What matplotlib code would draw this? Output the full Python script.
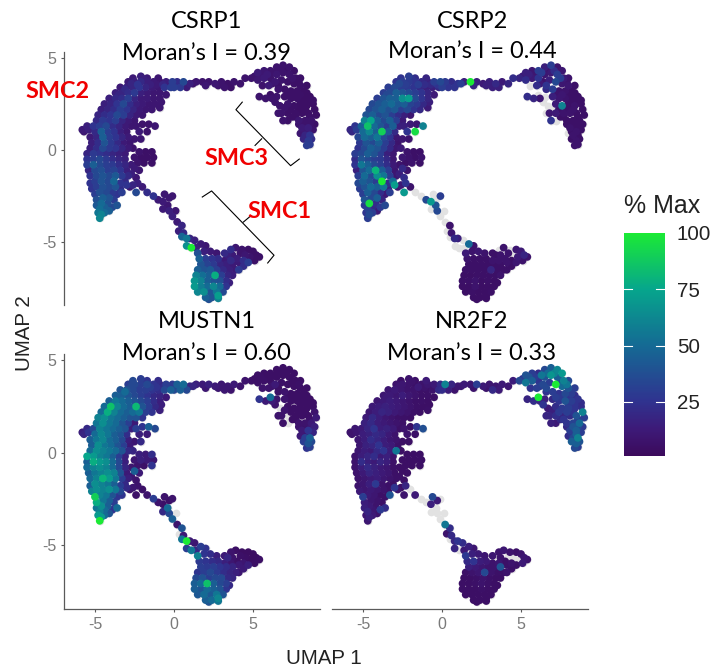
import matplotlib
matplotlib.use("Agg")
import matplotlib.pyplot as plt
import numpy as np
from matplotlib.colors import LinearSegmentedColormap, Normalize
from matplotlib.cm import ScalarMappable

plt.rcParams["axes.unicode_minus"] = False

UMAP1 = [
-4.7,-4.6,-4.8,-4.4,-4.7,-4.4,-4.9,-4.1,-4.6,-4.2,
-4.9,-4.5,-4.1,-3.8,-5.0,-4.7,-4.3,-3.9,-3.6,-5.2,
-4.9,-4.5,-4.1,-3.7,-3.4,-5.3,-5.0,-4.6,-4.2,-3.8,
-3.4,-3.1,-5.3,-4.9,-4.5,-4.1,-3.7,-3.3,-2.9,-5.4,
-5.0,-4.6,-4.2,-3.8,-3.4,-3.0,-5.5,-5.1,-4.7,-4.3,
-3.9,-3.5,-3.1,-2.7,-5.5,-5.1,-4.7,-4.3,-3.9,-3.5,
-3.1,-5.5,-5.1,-4.7,-4.3,-3.9,-3.5,-3.1,-5.3,-4.9,
-4.5,-4.1,-3.7,-3.3,-2.9,-5.2,-4.8,-4.4,-4.0,-3.6,
-3.2,-2.8,-5.3,-4.9,-4.5,-4.1,-3.7,-3.3,-2.9,-5.7,
-5.8,-5.4,-5.0,-4.6,-4.2,-3.8,-3.4,-3.0,-5.5,-5.1,
-4.7,-4.3,-3.9,-3.5,-3.1,-2.7,-4.9,-4.5,-4.1,-3.7,
-3.3,-2.9,-2.5,-4.8,-4.4,-4.0,-3.6,-3.2,-2.8,-2.4,
-2.0,-4.6,-4.2,-3.8,-3.4,-3.0,-2.6,-2.2,-1.8,-1.4,
-0.9,-4.4,-4.0,-3.6,-3.2,-2.8,-2.4,-2.0,-1.6,-1.2,
-0.8,-4.1,-3.7,-3.3,-2.9,-2.5,-2.1,-1.7,-1.3,-0.9,
-0.5,-3.7,-3.3,-2.9,-2.5,-2.1,-1.7,-1.3,-0.9,-3.4,
-3.0,-2.6,-2.2,-1.8,-1.4,-1.0,-0.6,-0.2,-2.9,-2.5,
-2.1,-1.7,-1.3,-0.9,-0.5,-0.1,-2.6,-2.1,-1.7,-1.0,
-2.4,-2.0,-1.6,-1.2,-2.2,-1.7,-2.5,-2.1,-2.6,-2.2,
-1.8,-1.4,-2.5,-2.1,-1.7,-1.3,-2.3,-1.9,-1.4,-2.5,
-2.2,-2.7,-2.4,-3.0,-3.3,-2.8,-3.6,-3.9,-2.6,-2.3,
-2.0,-1.7,-2.4,-1.3,-1.0,-0.6,-0.3,-0.7,-0.4,-0.1,
-0.7,-0.3,-0.1,0.1,0.2,0.5,0.3,0.6,0.8,0.5,
0.8,1.0,1.3,1.1,1.4,1.7,2.0,1.5,1.9,2.3,
2.7,1.6,2.0,2.4,2.8,3.2,1.7,2.1,2.5,2.9,
3.3,3.7,4.1,1.5,1.9,2.3,2.7,3.1,3.5,3.9,
1.4,1.8,2.2,2.6,3.0,3.4,3.7,1.3,1.7,2.1,
2.5,2.9,3.3,3.5,1.3,1.7,2.1,2.5,2.9,3.3,
1.5,1.9,2.3,2.7,3.1,2.0,2.4,2.8,2.2,2.8,
3.6,3.9,4.3,4.7,5.0,5.2,5.4,5.1,4.8,4.5,
3.4,3.7,3.6,4.0,4.4,3.2,4.2,4.7,4.4,4.1,
0.2,0.6,1.0,0.0,0.4,1.4,1.8,2.2,2.6,3.0,
3.4,3.8,4.2,4.5,0.8,3.2,1.2,2.0,2.8,3.6,
4.9,5.3,5.3,5.7,5.7,6.1,6.1,6.5,6.5,6.9,
6.9,7.3,7.3,7.6,7.7,5.6,6.0,6.4,6.8,7.2,
7.6,8.0,8.0,6.6,7.0,7.4,7.8,8.2,8.4,7.0,
7.4,7.8,8.2,8.6,7.2,7.6,8.0,8.4,8.8,7.7,
8.1,8.5,8.9,9.0,7.9,8.3,8.7,8.9,8.1,8.5,
8.8,8.3,8.6,8.5,8.4,8.7,8.2,7.9,8.6,8.0,
5.4,5.8,6.1,6.4,6.7,6.8,7.2,6.9,7.2,7.0,
5.1,5.5,5.9,6.3,6.7,7.1,7.5,7.9,6.2,6.6,
7.2,7.6,8.0,8.4,8.0,8.4,8.8,7.9,8.3,7.4,
8.6,8.6,8.3,8.5,8.2,7.7,6.5,7.5,6.6,6.2,
-3.9,-3.5,-3.1,-2.7,-2.3,-1.9,-1.5,-1.1,-0.7,-0.3,
]
UMAP2 = [
-3.7,-3.5,-3.4,-3.4,-3.2,-3.1,-3.0,-3.3,-2.9,-2.9,
-2.7,-2.6,-2.6,-2.7,-2.4,-2.3,-2.3,-2.3,-2.4,-2.1,
-2.0,-2.0,-2.0,-2.0,-2.1,-1.8,-1.7,-1.7,-1.7,-1.7,
-1.8,-1.7,-1.4,-1.4,-1.4,-1.4,-1.4,-1.4,-1.4,-1.1,
-1.1,-1.1,-1.1,-1.1,-1.1,-1.1,-0.8,-0.8,-0.8,-0.8,
-0.8,-0.8,-0.8,-0.8,-0.5,-0.5,-0.5,-0.5,-0.5,-0.5,
-0.5,-0.2,-0.2,-0.2,-0.2,-0.2,-0.2,-0.2,0.1,0.1,
0.1,0.1,0.1,0.1,0.1,0.4,0.4,0.4,0.4,0.4,
0.4,0.4,0.7,0.7,0.7,0.7,0.7,0.7,0.7,1.0,
1.1,1.1,1.0,1.0,1.0,1.0,1.0,1.0,1.3,1.3,
1.3,1.3,1.3,1.3,1.3,1.3,1.6,1.6,1.6,1.6,
1.6,1.6,1.6,1.9,1.9,1.9,1.9,1.9,1.9,1.9,
1.9,2.2,2.2,2.2,2.2,2.2,2.2,2.2,2.2,2.2,
2.3,2.5,2.5,2.5,2.5,2.5,2.5,2.5,2.5,2.5,
2.6,2.8,2.8,2.8,2.8,2.8,2.8,2.8,2.8,2.8,
3.0,3.1,3.1,3.1,3.1,3.1,3.1,3.1,3.1,3.4,
3.4,3.4,3.4,3.4,3.4,3.4,3.4,3.4,3.7,3.7,
3.7,3.7,3.7,3.7,3.7,3.7,3.9,4.0,3.9,3.9,
1.3,1.4,1.4,1.3,1.0,1.0,0.6,0.6,0.1,-0.1,
-0.1,-0.1,-0.4,-0.4,-0.4,-0.4,-0.7,-0.7,-0.7,-1.0,
-1.1,-1.3,-1.5,-1.9,-2.3,-2.0,-3.0,-3.1,-1.9,-1.8,
-2.0,-2.3,-2.3,-2.5,-2.7,-2.4,-2.6,-2.8,-3.0,-2.5,
-3.2,-3.3,-3.6,-3.3,-3.9,-4.1,-4.4,-4.5,-4.8,-4.7,
-5.2,-4.8,-4.9,-5.3,-5.3,-5.1,-5.2,-5.6,-5.5,-5.5,
-5.6,-5.9,-5.9,-5.9,-5.9,-6.0,-6.2,-6.2,-6.2,-6.2,
-6.2,-6.2,-6.1,-6.5,-6.5,-6.5,-6.5,-6.5,-6.5,-6.5,
-6.8,-6.8,-6.8,-6.8,-6.8,-6.8,-6.8,-7.1,-7.1,-7.1,
-7.1,-7.1,-7.1,-7.2,-7.4,-7.4,-7.4,-7.4,-7.4,-7.4,
-7.7,-7.7,-7.7,-7.7,-7.7,-8.0,-8.0,-7.9,-8.1,-8.05,
-5.4,-5.3,-5.4,-5.4,-5.5,-5.7,-5.8,-6.0,-5.8,-5.7,
-5.7,-5.7,-6.0,-5.9,-6.0,-5.6,-5.6,-6.1,-6.3,-6.5,
3.7,3.7,3.6,3.4,3.4,3.7,3.7,3.7,3.6,3.7,
3.6,3.7,3.6,3.9,3.4,3.4,3.6,3.5,3.5,3.4,
3.9,4.2,3.8,4.3,3.9,4.3,3.9,4.5,4.1,4.6,
4.2,4.5,4.1,4.3,3.9,3.5,3.5,3.7,3.8,3.7,
3.6,3.9,3.5,3.3,3.3,3.2,3.2,3.2,3.5,2.9,
2.8,2.8,2.8,2.9,2.5,2.4,2.4,2.4,2.5,2.0,
2.0,2.0,2.2,1.9,1.6,1.6,1.6,1.4,1.2,1.2,
1.1,0.8,0.8,0.5,0.25,0.6,1.0,1.4,0.3,0.9,
2.9,2.8,3.0,2.6,2.4,2.0,2.0,1.6,1.6,2.3,
4.0,4.1,4.1,4.2,4.3,4.3,3.9,3.7,3.6,3.5,
3.0,3.0,3.0,3.1,2.6,2.6,2.7,2.2,2.2,2.2,
1.8,1.4,1.4,1.0,0.6,1.8,2.9,1.8,2.0,2.8,
2.6,3.0,3.3,3.6,3.55,3.85,3.55,3.55,3.55,3.55,
]
CSRP1 = [
62,60,55,50,52,45,42,45,50,38,
38,45,40,30,30,38,35,28,25,25,
30,38,35,40,22,25,30,40,35,48,
25,20,25,35,40,35,42,28,20,18,
35,38,30,32,25,15,30,45,35,30,
28,22,18,12,25,30,35,28,22,18,
15,18,28,25,22,18,15,12,15,22,
35,28,25,18,12,15,22,40,28,20,
12,10,12,18,45,30,25,18,12,10,
12,15,20,45,30,25,15,10,15,25,
30,35,22,18,12,10,20,28,25,30,
18,12,10,18,22,25,35,30,18,12,
10,15,18,22,30,25,18,12,10,10,
10,15,18,25,35,22,15,12,10,10,
10,15,20,22,30,18,12,12,10,10,
10,15,18,22,28,15,12,10,10,12,
15,18,25,18,12,10,25,30,12,15,
20,15,12,10,15,30,12,15,12,10,
10,8,8,10,12,8,10,10,8,8,
6,6,8,6,6,6,8,6,6,12,
10,15,10,25,30,12,40,35,18,15,
12,22,35,25,12,10,10,12,10,10,
12,15,15,10,12,18,15,20,55,48,
65,18,15,100,15,12,10,38,15,12,
10,45,30,25,22,12,40,32,28,18,
15,12,12,45,40,42,30,20,15,12,
60,52,45,78,30,18,15,68,60,45,
40,38,22,15,70,58,50,62,50,25,
62,65,40,55,35,45,40,72,38,60,
22,10,8,6,6,6,6,6,8,10,
15,12,20,14,22,20,8,30,22,28,
22,35,15,30,28,10,8,8,10,8,
6,8,8,8,12,8,8,10,8,6,
8,12,10,10,12,8,8,8,10,8,
8,8,8,6,6,8,12,10,8,6,
6,6,6,8,6,6,6,5,5,6,
6,6,5,5,8,6,5,5,5,6,
5,5,5,5,10,8,8,6,12,14,
8,18,25,28,30,22,10,8,28,10,
8,8,6,8,8,8,6,8,6,8,
8,10,12,8,8,6,8,6,8,6,
6,6,6,5,5,5,6,5,5,6,
6,8,8,10,18,6,8,6,8,8,
15,18,20,18,25,15,15,12,18,12,
]
CSRP2 = [
30,35,25,30,32,20,28,12,95,22,
40,35,45,18,30,45,35,22,12,30,
40,50,45,55,15,35,45,40,30,100,
22,50,30,50,35,65,55,30,10,15,
40,50,80,45,30,10,25,55,45,35,
30,22,12,8,22,40,35,30,28,20,
10,30,35,45,40,30,15,10,25,35,
45,40,30,20,10,28,40,35,45,30,
20,8,35,50,45,55,35,25,10,20,
18,30,50,62,45,90,40,20,25,45,
85,50,40,30,45,15,60,75,45,35,
45,30,12,40,45,35,40,30,22,15,
10,35,40,45,38,42,30,35,25,20,
12,35,40,45,50,42,45,32,28,20,
15,30,40,45,45,65,72,35,25,18,
12,30,35,45,40,35,30,25,18,30,
35,30,28,25,20,15,15,20,25,30,
28,25,20,15,30,35,25,30,22,18,
15,12,10,60,25,95,10,8,12,8,
6,6,10,8,6,8,6,8,6,20,
8,15,22,72,30,10,35,28,12,25,
8,0,70,0,35,0,0,70,40,30,
0,35,0,0,0,8,0,10,20,0,
0,15,0,0,0,50,8,12,8,10,
8,8,6,6,6,8,6,6,6,6,
6,6,8,6,6,6,6,18,6,6,
5,5,6,6,6,6,8,6,6,8,
5,6,5,5,5,5,8,5,5,5,
5,6,5,5,6,5,5,5,5,5,
0,8,0,10,12,18,8,8,12,0,
6,8,8,8,6,6,8,10,6,6,
28,22,25,30,25,15,100,15,12,15,
20,12,18,22,25,15,30,18,15,15,
18,15,22,10,12,30,25,15,10,30,
12,8,30,10,12,0,22,8,15,35,
10,8,10,20,30,8,8,6,6,15,
10,8,6,6,12,60,6,8,6,8,
8,6,6,6,6,6,6,6,8,6,
6,8,6,8,8,6,6,6,8,0,
22,18,0,0,0,10,12,25,0,0,
12,15,10,30,8,22,30,8,12,25,
8,10,6,6,6,6,6,6,8,6,
6,6,6,8,6,6,0,6,0,10,
30,35,28,35,30,25,30,22,20,25,
]
MUSTN1 = [
100,70,70,50,60,50,55,40,65,45,
78,55,45,30,90,60,55,40,25,60,
65,60,65,55,35,45,65,60,55,45,
30,20,50,60,80,70,55,30,15,45,
55,60,65,60,40,12,50,60,65,60,
50,35,18,10,45,78,70,65,50,35,
15,75,70,60,55,45,30,15,50,65,
60,55,50,40,20,45,65,55,50,40,
30,12,45,55,62,50,45,35,15,18,
15,25,50,62,55,45,40,22,20,35,
60,55,50,45,40,15,55,65,55,50,
40,30,12,60,65,55,50,45,40,40,
25,50,78,60,50,45,50,55,30,25,
15,50,85,60,50,45,82,40,30,20,
15,45,55,50,45,40,35,30,22,15,
12,45,45,40,35,30,25,20,18,40,
40,35,30,30,25,22,35,45,30,35,
30,35,25,18,30,28,35,30,25,22,
30,25,45,35,15,12,10,20,18,15,
12,22,10,15,12,10,8,6,25,45,
12,10,8,20,25,8,50,25,10,8,
6,8,6,30,8,8,6,6,50,8,
20,35,45,0,8,40,0,12,100,55,
30,12,10,55,20,30,25,60,25,22,
15,28,25,22,20,15,30,28,30,25,
22,18,12,25,30,35,28,22,18,15,
35,40,30,35,35,20,18,45,50,85,
45,35,30,20,45,40,50,45,40,25,
42,50,42,55,40,45,50,62,40,55,
8,5,4,4,4,4,5,5,4,5,
18,8,10,6,10,12,6,15,12,10,
45,50,18,35,45,15,12,15,12,10,
10,12,8,8,35,10,18,10,10,8,
6,6,6,5,6,5,5,5,5,5,
5,5,5,5,5,8,8,12,6,5,
5,5,5,6,8,5,5,5,5,8,
5,5,5,5,5,5,5,5,5,5,
5,5,8,12,8,8,12,15,12,25,
18,30,45,40,25,35,10,8,30,12,
25,12,50,8,0,8,0,6,0,8,
5,6,5,5,5,5,5,6,8,5,
5,5,5,5,5,5,5,5,5,5,
6,8,6,10,30,5,8,5,8,12,
50,45,50,35,30,25,30,25,22,18,
]
NR2F2 = [
10,15,10,12,18,10,15,8,12,8,
14,10,8,6,30,12,10,6,6,12,
10,12,10,8,6,8,10,15,28,8,
6,5,8,10,12,14,10,8,6,8,
12,18,15,12,10,6,8,14,20,16,
12,10,6,5,8,22,15,12,18,14,
6,8,14,18,22,12,15,8,10,14,
12,20,25,14,55,10,16,18,25,14,
12,6,10,14,22,18,14,10,8,8,
8,10,14,16,20,18,12,8,10,12,
18,25,14,16,12,6,16,20,14,12,
10,8,6,12,20,14,10,8,6,6,
5,10,14,18,16,12,10,8,6,5,
6,12,14,16,14,12,10,8,6,5,
5,10,12,14,12,10,8,6,6,5,
5,10,12,10,14,10,8,6,6,10,
12,10,8,8,6,6,8,20,8,10,
8,6,8,10,12,20,6,8,6,12,
8,5,25,38,8,6,5,5,5,5,
5,5,5,5,5,5,5,5,5,5,
5,6,5,25,40,8,22,28,5,18,
0,12,8,0,0,35,12,15,0,0,
0,0,0,0,55,22,8,20,18,0,
18,25,22,0,12,15,10,28,15,12,
10,20,25,14,12,8,15,12,10,8,
8,40,6,6,8,10,35,8,6,6,
5,5,6,8,6,5,5,5,5,6,
8,6,5,5,5,5,5,6,5,5,
5,5,5,5,5,5,5,5,5,5,
8,10,8,6,8,10,8,12,0,0,
0,8,10,6,8,10,0,6,6,8,
60,18,10,22,14,12,10,30,12,10,
10,12,10,14,8,20,10,8,8,12,
35,40,55,30,45,22,25,35,40,45,
68,62,45,70,60,25,30,35,30,100,
50,35,40,25,30,25,35,30,30,20,
25,40,30,25,22,28,30,25,22,18,
22,40,60,30,25,32,50,28,30,45,
30,35,60,45,35,40,25,20,30,22,
18,22,100,25,12,18,22,15,12,15,
25,40,30,55,50,60,35,55,30,35,
30,28,25,22,28,25,22,30,25,28,
28,35,40,45,45,25,15,20,18,18,
10,12,8,10,6,8,12,8,6,10,
]

GENES = ["CSRP1", "CSRP2", "MUSTN1", "NR2F2"]
MORAN = ["0.39", "0.44", "0.60", "0.33"]
VALUES = [CSRP1, CSRP2, MUSTN1, NR2F2]
COLOR_TICKS = [25, 50, 75, 100]
X_TICKS = [-5, 0, 5]
Y_TICKS = [-5, 0, 5]

W, H = 715, 668
TITLE_FONT = "Lato"
AXIS_GREY = "#5a5a5a"
TICK_GREY = "#7a7a7a"
DOT = 31

cmap = LinearSegmentedColormap.from_list("pct", [
    (0.00, "#3c0a5c"), (0.12, "#3d1a78"), (0.25, "#2f3490"),
    (0.50, "#146b94"), (0.75, "#06a68c"), (1.00, "#1bea35")])
norm = Normalize(1, 100)

fig = plt.figure(figsize=(W / 100, H / 100), dpi=100, facecolor="white")

def px_axes(left, top, right, bottom):
    return fig.add_axes([left / W, 1 - bottom / H, (right - left) / W, (bottom - top) / H])

BOXES = [(64, 52, 320, 305), (332, 52, 588, 305), (64, 354, 320, 609.3), (332, 354, 588, 609.3)]
X_LIM = (-6.96, 9.24)
Y_LIMS = [(-8.41, 5.32), (-8.41, 5.32), (-8.5, 5.35), (-8.5, 5.35)]
TITLE_POS = [(206.5, 22, 53), (472, 21, 52), (206.5, 321, 353), (472, 321, 353)]

x = np.array(UMAP1)
y = np.array(UMAP2)
axes = []
for i, (box, ylim, name, mor, vals) in enumerate(zip(BOXES, Y_LIMS, GENES, MORAN, VALUES)):
    ax = px_axes(*box)
    ax.patch.set_alpha(0)
    axes.append(ax)
    v = np.array(vals, dtype=float)
    ax.scatter(x, y, s=DOT, c="#e2e2e2", linewidths=0, zorder=1, clip_on=False)
    order = np.argsort(v)
    order = order[v[order] > 0]
    ax.scatter(x[order], y[order], c=v[order], s=DOT, cmap=cmap, norm=norm,
               linewidths=0, zorder=2, clip_on=False)
    ax.set_xlim(*X_LIM)
    ax.set_ylim(*ylim)
    for s in ("top", "right"):
        ax.spines[s].set_visible(False)
    for s in ("left", "bottom"):
        ax.spines[s].set_color(AXIS_GREY)
        ax.spines[s].set_linewidth(0.9)
    ax.spines["left"].set_visible(i in (0, 2))
    ax.spines["bottom"].set_visible(i in (2, 3))
    if i in (0, 2):
        ax.set_yticks(Y_TICKS)
    else:
        ax.set_yticks([])
    if i in (2, 3):
        ax.set_xticks(X_TICKS)
    else:
        ax.set_xticks([])
    ax.tick_params(length=2.5, width=0.8, color=AXIS_GREY, labelcolor=TICK_GREY,
                   labelsize=11.5, pad=3)
    for lab in ax.get_xticklabels() + ax.get_yticklabels():
        lab.set_family("Liberation Sans")
    cx, y1, y2 = TITLE_POS[i]
    fig.text(cx / W, 1 - y1 / H, name, ha="center", va="center", fontsize=17,
             family=TITLE_FONT, color="black", zorder=5)
    fig.text(cx / W, 1 - y2 / H, "Moran\u2019s I = " + mor, ha="center", va="center",
             fontsize=17, family=TITLE_FONT, color="black", zorder=5)

# cluster annotations on the first panel
ax0 = axes[0]
BRACKET_SMC3_X = [4.32, 3.92, 7.38, 7.93]
BRACKET_SMC3_Y = [2.60, 2.19, -0.85, -0.49]
STUB_SMC3_X = [5.55, 5.13]
STUB_SMC3_Y = [0.61, 0.25]
BRACKET_SMC1_X = [1.79, 2.38, 6.33, 5.93]
BRACKET_SMC1_Y = [-2.55, -2.22, -5.71, -6.13]
STUB_SMC1_X = [4.39, 4.85]
STUB_SMC1_Y = [-3.91, -3.58]
for bx, by in [(BRACKET_SMC3_X, BRACKET_SMC3_Y), (STUB_SMC3_X, STUB_SMC3_Y),
               (BRACKET_SMC1_X, BRACKET_SMC1_Y), (STUB_SMC1_X, STUB_SMC1_Y)]:
    ax0.plot(bx, by, color="black", lw=0.8, zorder=3, clip_on=False)
for label, lx, ly in [("SMC2", -7.34, 3.2), ("SMC3", 3.97, -0.47), ("SMC1", 6.67, -3.31)]:
    ax0.text(lx, ly, label, color="#f00000", fontsize=16.8, fontweight="bold",
             family=TITLE_FONT, ha="center", va="center", zorder=6, clip_on=False)

fig.text(323.5 / W, 1 - 658 / H, "UMAP 1", ha="center", va="center", fontsize=14.8,
         family="Liberation Sans", color="#222222")
fig.text(24 / W, 1 - 333 / H, "UMAP 2", ha="center", va="center", rotation=90, fontsize=14.8,
         family="Liberation Sans", color="#222222")

cax = px_axes(623.5, 233, 664.5, 456)
sm = ScalarMappable(norm=norm, cmap=cmap)
cb = fig.colorbar(sm, cax=cax)
cb.outline.set_visible(False)
cb.set_ticks(COLOR_TICKS)
cb.ax.tick_params(length=0, pad=9, labelsize=14.8, labelcolor="#222222")
for lab in cb.ax.get_yticklabels():
    lab.set_family("Liberation Sans")
for t in COLOR_TICKS[:-1]:
    cax.plot([0, 0.2], [t, t], color="white", lw=0.8, transform=cax.get_yaxis_transform())
    cax.plot([0.8, 1], [t, t], color="white", lw=0.8, transform=cax.get_yaxis_transform())
fig.text(624 / W, 1 - 206 / H, "% Max", ha="left", va="center", fontsize=18,
         family="Liberation Sans", color="#222222")

fig.savefig("out.png", dpi=100, facecolor="white")
